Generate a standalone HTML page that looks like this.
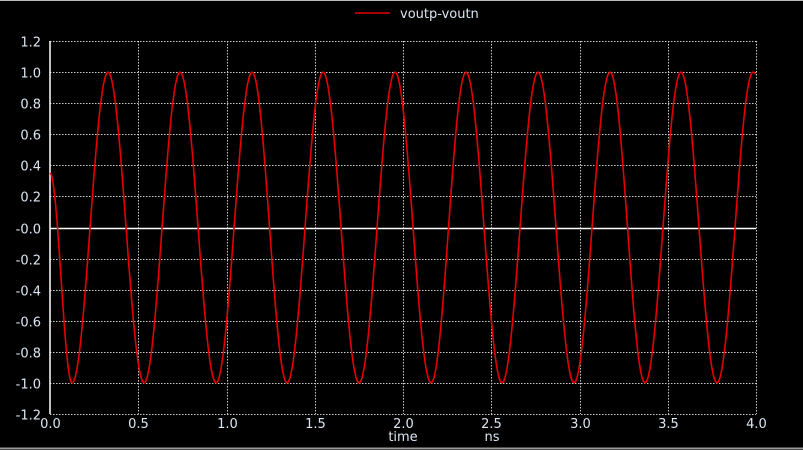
<!DOCTYPE html>
<html><head><meta charset="utf-8"><style>
html,body{margin:0;padding:0;background:#000;}
svg{display:block;}
text{font-family:"DejaVu Sans","Liberation Sans",sans-serif;font-size:13px;fill:#dbe6f2;}
</style></head><body>
<svg id="chart" width="803" height="450" viewBox="0 0 803 450">
<rect x="0" y="0" width="803" height="450" fill="#000"/>
<line x1="0" y1="0.5" x2="803" y2="0.5" stroke="#bbb"/>
<line x1="0" y1="448.5" x2="803" y2="448.5" stroke="#999" stroke-width="2"/>
<g id="grid"></g>
<g id="ticks"></g>
<g id="series"></g>
<g>
<line x1="355" y1="13" x2="390" y2="13" stroke="#e00000" stroke-width="1.5"/>
<text x="400" y="18">voutp-voutn</text>
</g>
<text x="403" y="441" text-anchor="middle">time</text>
<text x="492" y="441" text-anchor="middle">ns</text>
</svg>
<script>
const xTicks = [0,0.5,1.0,1.5,2.0,2.5,3.0,3.5,4.0];
const xTickLabels = ["0.0","0.5","1.0","1.5","2.0","2.5","3.0","3.5","4.0"];
const yTicks = [1.2,1.0,0.8,0.6,0.4,0.2,0,-0.2,-0.4,-0.6,-0.8,-1.0,-1.2];
const yTickLabels = ["1.2","1.0","0.8","0.6","0.4","0.2","-0.0","-0.2","-0.4","-0.6","-0.8","-1.0","-1.2"];
const extremaTimes = [0,0.125,0.329,0.533,0.737,0.941,1.145,1.343,1.547,1.751,1.955,2.159,2.357,2.561,2.765,2.969,3.173,3.371,3.575,3.779,3.983,4.0];
const extremaValues = [0.35,-1,1,-1,1,-1,1,-1,1,-1,1,-1,1,-1,1,-1,1,-1,1,-1,1,0.99];

const L=50,R=756,T=41,B=414;
const xs=t=>L+(t-0)/(4-0)*(R-L);
const ys=v=>B-(v+1.2)/2.4*(B-T);
const NS="http://www.w3.org/2000/svg";
function mk(tag,attrs,parent){const e=document.createElementNS(NS,tag);for(const k in attrs)e.setAttribute(k,attrs[k]);parent.appendChild(e);return e;}
const grid=document.getElementById('grid'),ticks=document.getElementById('ticks'),series=document.getElementById('series');
yTicks.forEach((v,i)=>{
  const y=Math.round(ys(v))+0.5;
  let ln;
  if(v===0){ln=mk('line',{x1:L,y1:y,x2:R,y2:y,stroke:'#fff','stroke-width':1.5},grid);}
  else{ln=mk('line',{x1:L,y1:y,x2:R,y2:y,stroke:'#ccc','stroke-dasharray':'1.5 1.5'},grid);}
  
  
  const t=mk('text',{x:41,y:y+5,'text-anchor':'end'},ticks);t.textContent=yTickLabels[i];
  
  
});
xTicks.forEach((v,i)=>{
  const x=Math.round(xs(v))+0.5;
  if(i>0){const ln=mk('line',{x1:x,y1:T,x2:x,y2:B,stroke:'#ccc','stroke-dasharray':'1.5 1.5'},grid);
  
  }
  const t=mk('text',{x:x,y:428,'text-anchor':'middle'},ticks);t.textContent=xTickLabels[i];
  
  
});
const ax=mk('line',{x1:L,y1:T,x2:L,y2:B,stroke:'#fff','stroke-width':1.5},grid);


let d='';
for(let i=0;i<extremaTimes.length-1;i++){
  const t0=extremaTimes[i],t1=extremaTimes[i+1],v0=extremaValues[i],v1=extremaValues[i+1];
  for(let k=0;k<=24;k++){
    const f=k/24,s=(1-Math.cos(Math.PI*f))/2;
    const x=xs(t0+(t1-t0)*f),y=ys(v0+(v1-v0)*s);
    d+=(d?'L':'M')+x.toFixed(2)+' '+y.toFixed(2);
  }
}
const p=mk('path',{d:d,fill:'none',stroke:'#e60000','stroke-width':1.6},series);


</script>
</body></html>
